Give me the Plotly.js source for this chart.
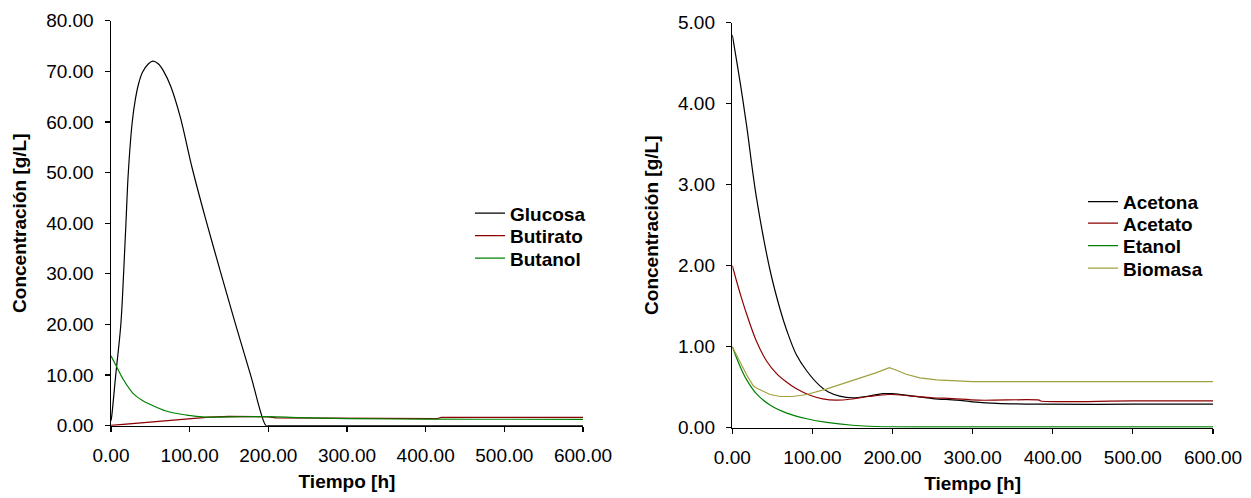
<!DOCTYPE html>
<html>
<head>
<meta charset="utf-8">
<script src="https://cdn.plot.ly/plotly-3.0.1.min.js"></script>
<style>
html,body{margin:0;padding:0;background:#fff;}
#chart{width:1251px;height:498px;}
</style>
</head>
<body>
<div id="chart"></div>
<script>
// ---- Left panel data ----
var tGlucosa = [0, 1, 6, 12.5, 16, 19, 22, 27, 31, 35, 40, 47, 53, 60, 67, 76, 88, 103, 120, 139, 158, 177.5, 197, 200, 210, 300, 400, 500, 600];
var glucosa  = [1, 2, 10, 20, 30, 40, 50, 60, 64.5, 67.5, 69.8, 71.4, 72, 71.5, 70, 67, 61, 51, 41, 30.5, 20.2, 10, 0, 0, 0, 0, 0, 0, 0];

var tButirato = [0, 25, 50, 75, 100, 125, 150, 175, 200, 210, 250, 310, 415, 420, 500, 600];
var butirato  = [0.05, 0.4, 0.75, 1.1, 1.45, 1.7, 1.85, 1.85, 1.75, 1.55, 1.5, 1.4, 1.4, 1.66, 1.66, 1.66];

var tButanol = [0, 7, 15, 28, 40, 50, 70, 96, 120, 150, 200, 240, 300, 400, 500, 600];
var butanol  = [13.8, 11.7, 9.3, 6.4, 5.0, 4.2, 2.9, 2.1, 1.7, 1.75, 1.8, 1.6, 1.4, 1.3, 1.27, 1.26];

// ---- Right panel data ----
var tAcetona = [0, 10, 18, 30, 47, 60, 68, 80, 93, 109, 120, 134, 150, 170, 188, 200, 225, 250, 280, 300, 330, 383, 500, 600];
var acetona  = [4.85, 4.25, 3.72, 2.85, 1.95, 1.45, 1.2, 0.9, 0.7, 0.52, 0.44, 0.39, 0.37, 0.39, 0.42, 0.42, 0.39, 0.36, 0.34, 0.32, 0.30, 0.29, 0.29, 0.29];

var tAcetato = [0, 5, 10, 18, 30, 43, 55, 68, 80, 97, 113, 130, 150, 170, 196, 225, 250, 275, 307, 383, 385, 500, 600];
var acetato  = [2.0, 1.82, 1.65, 1.40, 1.07, 0.82, 0.67, 0.56, 0.48, 0.40, 0.355, 0.34, 0.355, 0.385, 0.41, 0.39, 0.37, 0.36, 0.34, 0.34, 0.33, 0.33, 0.33];

var tEtanol = [0, 5, 10, 18, 30, 47, 68, 93, 118, 150, 180, 250, 400, 600];
var etanol  = [1.0, 0.87, 0.75, 0.59, 0.42, 0.28, 0.18, 0.11, 0.065, 0.03, 0.015, 0.01, 0.01, 0.01];

var tBiomasa = [0, 5, 10, 18, 26, 30, 47, 60, 75, 93, 118, 140, 160, 180, 196, 205, 217, 234, 255, 275, 300, 450, 600];
var biomasa  = [1.0, 0.9, 0.82, 0.65, 0.52, 0.49, 0.41, 0.385, 0.385, 0.41, 0.48, 0.55, 0.61, 0.68, 0.74, 0.71, 0.66, 0.615, 0.59, 0.58, 0.57, 0.57, 0.57];

var xTicks = [0, 100, 200, 300, 400, 500, 600];
var yTicksLeft = [0, 10, 20, 30, 40, 50, 60, 70, 80];
var yTicksRight = [0, 1, 2, 3, 4, 5];

var FONT = 'Liberation Sans, Arial, sans-serif';
var C_BLACK = '#000000', C_RED = '#8b0000', C_GREEN = '#008000', C_OLIVE = '#a0a040';

function tr(x, y, name, color, xa, ya, leg, smooth) {
  var line = {color: color, width: 1.2};
  if (smooth) { line.shape = 'spline'; line.smoothing = 1; }
  return {x: x, y: y, name: name, type: 'scatter', mode: 'lines',
          line: line, xaxis: xa, yaxis: ya, legend: leg, hoverinfo: 'x+y+name'};
}

var data = [
  tr(tGlucosa, glucosa, 'Glucosa', C_BLACK, 'x', 'y', 'legend', true),
  tr(tButirato, butirato, 'Butirato', C_RED, 'x', 'y', 'legend3', false),
  tr(tButanol, butanol, 'Butanol', C_GREEN, 'x', 'y', 'legend4', true),
  tr(tAcetona, acetona, 'Acetona', C_BLACK, 'x2', 'y2', 'legend2', true),
  tr(tAcetato, acetato, 'Acetato', C_RED, 'x2', 'y2', 'legend5', true),
  tr(tEtanol, etanol, 'Etanol', C_GREEN, 'x2', 'y2', 'legend6', true),
  tr(tBiomasa, biomasa, 'Biomasa', C_OLIVE, 'x2', 'y2', 'legend7', false)
];

function xAxis(dom, anchor) {
  return {domain: dom, anchor: anchor, range: [0, 600], tickvals: xTicks, tickformat: '.2f',
    showgrid: false, zeroline: false, showline: true, linecolor: '#000', linewidth: 1.5,
    ticks: 'outside', ticklen: 5, tickcolor: '#000', tickwidth: 1.2, ticklabelstandoff: 7,
    tickfont: {family: FONT, size: 19, color: '#000'},
    title: {text: 'Tiempo [h]', font: {family: FONT, size: 19, color: '#000', weight: 'bold'}, standoff: 9},
    automargin: false, fixedrange: true};
}
function yAxis(dom, anchor, range, vals) {
  return {domain: dom, anchor: anchor, range: range, tickvals: vals, tickformat: '.2f',
    showgrid: false, zeroline: false, showline: true, linecolor: '#000', linewidth: 1.5,
    ticks: 'outside', ticklen: 5, tickcolor: '#000', tickwidth: 1.2, ticklabelstandoff: 7,
    tickfont: {family: FONT, size: 19, color: '#000'},
    title: {text: 'Concentración [g/L]', font: {family: FONT, size: 19, color: '#000', weight: 'bold'}, standoff: 14},
    automargin: false, fixedrange: true};
}
function leg(xText, yCenter) {
  return {x: (xText - 40) / 1251, y: 1 - yCenter / 498, xanchor: 'left', yanchor: 'middle',
    bgcolor: 'rgba(0,0,0,0)', borderwidth: 0,
    font: {family: FONT, size: 19, color: '#000', weight: 'bold'}};
}

var layout = {
  width: 1251, height: 498,
  margin: {l: 0, r: 0, t: 0, b: 0},
  paper_bgcolor: '#fff', plot_bgcolor: '#fff',
  font: {family: FONT, color: '#000'},
  xaxis: xAxis([111/1251, 583/1251], 'y'),
  yaxis: yAxis([1 - 425.7/498, 1 - 20.7/498], 'x', [0, 80], yTicksLeft),
  xaxis2: xAxis([732.3/1251, 1213/1251], 'y2'),
  yaxis2: yAxis([1 - 427.7/498, 1 - 22.7/498], 'x2', [0, 5], yTicksRight),
  legend: leg(510, 213.3),
  legend3: leg(510, 235.7),
  legend4: leg(510, 258.3),
  legend2: leg(1123, 201.7),
  legend5: leg(1123, 223.3),
  legend6: leg(1123, 245.7),
  legend7: leg(1123, 268.3),
  showlegend: true
};

Plotly.newPlot('chart', data, layout, {displayModeBar: false, staticPlot: true});
</script>
</body>
</html>
